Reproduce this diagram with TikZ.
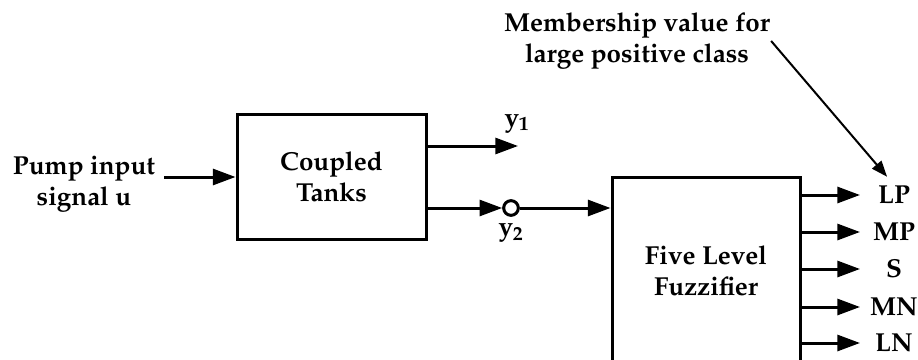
\documentclass[tikz,border=0pt]{standalone}
\usepackage[T1]{fontenc}
\usepackage{mathpazo}
\usepackage{tikz}
\usetikzlibrary{arrows.meta}

\tikzset{
  blockbox/.style={draw,line width=2.25pt,inner sep=0pt,align=center},
  sigline/.style={line width=2.25pt,-{Triangle[length=17pt,width=12pt]}},
  lbltext/.style={inner sep=0.75pt,align=center}
}

\begin{document}
\begin{tikzpicture}[x=0.75pt,y=0.75pt,yscale=-1,xscale=1,font=\fontsize{19.5}{23}\selectfont\bfseries]
        \clip (0,0) rectangle (918,360);

        \node [blockbox,minimum width=141.75pt,minimum height=93pt] (tanks) at (331.5,177) {Coupled\\Tanks};
        \node [blockbox,minimum width=141pt,minimum height=141pt] (fuzz) at (706,271) {Five Level\\Fuzzifier};
        \node [lbltext] (pump) at (84,184) {Pump input\\signal u};
        \node [lbltext] (memb) at (637,41) {Membership value for\\large positive class};
        \node [circle,draw,fill=white,line width=2.25pt,minimum size=11pt,inner sep=0pt] (tap) at (511,208) {};

        \coordinate (y1end) at (518,146);
        \node [lbltext,anchor=south] (y1lbl) at (517,134) {y\textsubscript{1}};
        \node [lbltext,anchor=north] (y2lbl) at (511,223) {y\textsubscript{2}};

        \draw [sigline,shorten <=6pt] (pump.east |- tanks.west) -- (tanks.west);
        \draw [sigline] (tanks.east |- y1end) -- (y1end);
        \draw [sigline] (tanks.east |- tap) -- (tap.west);
        \draw [sigline] (tap.east) -- (fuzz.west |- tap);

        \foreach \lbl/\yy in {LP/195,MP/232,S/269,MN/307,LN/343}
        {
            \coordinate (out\lbl) at (860,\yy);
            \node [lbltext] (\lbl) at (894,\yy) {\lbl};
            \draw [sigline] (fuzz.east |- out\lbl) -- (out\lbl);
        }

        \draw [line width=1.5pt,-{Triangle[length=12pt,width=9pt]},shorten >=8pt] (memb.east) -- (LP.north);
\end{tikzpicture}
\end{document}
